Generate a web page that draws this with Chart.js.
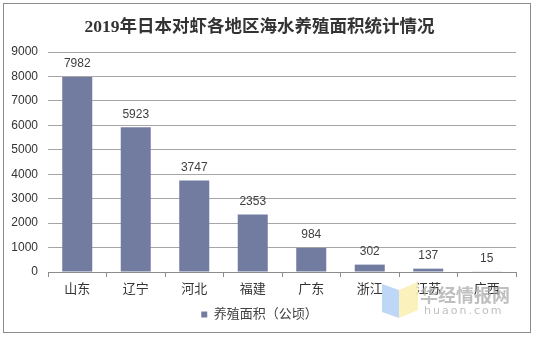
<!DOCTYPE html>
<html>
<head>
<meta charset="utf-8">
<script src="https://cdn.jsdelivr.net/npm/chart.js@4/dist/chart.umd.min.js"></script>
<style>
html,body{margin:0;padding:0;background:#fff;}
#wrap{width:536px;height:338px;position:relative;}
</style>
</head>
<body>
<div id="wrap"><canvas id="c" width="536" height="338"></canvas></div>
<script>
const titleText = '2019年日本对虾各地区海水养殖面积统计情况';
const categories = ['山东','辽宁','河北','福建','广东','浙江','江苏','广西'];
const seriesName = '养殖面积（公顷）';
const areaValues = [7982, 5923, 3747, 2353, 984, 302, 137, 15];
const yTicks = [0,1000,2000,3000,4000,5000,6000,7000,8000,9000];

const FONT = '"Liberation Sans", "Noto Sans CJK SC", sans-serif';
const BAR = '#727ca0';

const decor = {
  id: 'decor',
  afterDatasetsDraw(chart) {
    const ctx = chart.ctx;
    const meta = chart.getDatasetMeta(0);
    ctx.save();
    ctx.font = '12px ' + FONT;
    ctx.fillStyle = '#404040';
    ctx.textAlign = 'center';
    ctx.textBaseline = 'middle';
    meta.data.forEach((bar, i) => {
      ctx.fillText(String(areaValues[i]), bar.x, bar.y - 13);
    });
    ctx.restore();
  },
  afterDraw(chart) {
    const ctx = chart.ctx;
    ctx.save();
    ctx.strokeStyle = '#8c8c8c';
    ctx.lineWidth = 1;
    ctx.strokeRect(3.5, 3.5, 527, 329);
    ctx.globalAlpha = 0.85;
    ctx.fillStyle = '#b3d0f5';
    ctx.beginPath();
    ctx.moveTo(382, 284); ctx.lineTo(399, 290); ctx.lineTo(399, 318); ctx.lineTo(382, 312); ctx.closePath();
    ctx.fill();
    ctx.fillStyle = '#faeeb0';
    ctx.beginPath();
    ctx.moveTo(399, 290); ctx.lineTo(418, 282); ctx.lineTo(418, 310); ctx.lineTo(399, 318); ctx.closePath();
    ctx.fill();
    ctx.globalAlpha = 1;
    ctx.fillStyle = 'rgba(170,170,170,0.75)';
    ctx.textBaseline = 'middle';
    ctx.textAlign = 'left';
    ctx.font = 'bold 18px "Noto Sans CJK SC", sans-serif';
    ctx.fillText('华经情报网', 420, 295);
    ctx.font = '11px "DejaVu Sans", sans-serif';
    if ('letterSpacing' in ctx) ctx.letterSpacing = '2px';
    ctx.fillText('huaon.com', 424, 311);
    ctx.restore();
  }
};

new Chart(document.getElementById('c'), {
  type: 'bar',
  data: {
    labels: categories,
    datasets: [{
      label: seriesName,
      data: areaValues,
      backgroundColor: BAR,
      borderWidth: 0,
      categoryPercentage: 1,
      barPercentage: 0.513
    }]
  },
  options: {
    responsive: false,
    animation: false,
    devicePixelRatio: 1,
    layout: { padding: { left: 3, right: 20, top: 5, bottom: 7 } },
    plugins: {
      tooltip: { enabled: false },
      title: {
        display: true,
        text: titleText,
        color: '#333333',
        font: { family: '"Liberation Serif", "Noto Sans CJK SC", serif', size: 17.5, weight: 'bold', lineHeight: 1.2 },
        padding: { top: 12, bottom: 14 }
      },
      legend: {
        display: true,
        position: 'bottom',
        labels: {
          boxWidth: 6,
          boxHeight: 6,
          padding: 6,
          color: '#404040',
          font: { family: FONT, size: 13 }
        }
      }
    },
    scales: {
      x: {
        grid: { display: true, offset: true, drawOnChartArea: false, drawTicks: true, tickLength: 5, color: '#8c8c8c' },
        border: { display: true, color: '#8c8c8c' },
        ticks: { color: '#333333', font: { family: FONT, size: 13 }, padding: 5, maxRotation: 0 },
        afterFit(scale) { scale.height = 30; }
      },
      y: {
        min: 0,
        max: 9000,
        afterBuildTicks(scale) { scale.ticks = yTicks.map(v => ({ value: v })); },
        grid: { color: '#a6a6a6', drawTicks: false },
        border: { display: false },
        ticks: { color: '#333333', font: { family: FONT, size: 12 }, padding: 10, callback: (v) => String(v) },
        afterFit(scale) { scale.width = 45; }
      }
    }
  },
  plugins: [decor]
});
</script>
</body>
</html>
